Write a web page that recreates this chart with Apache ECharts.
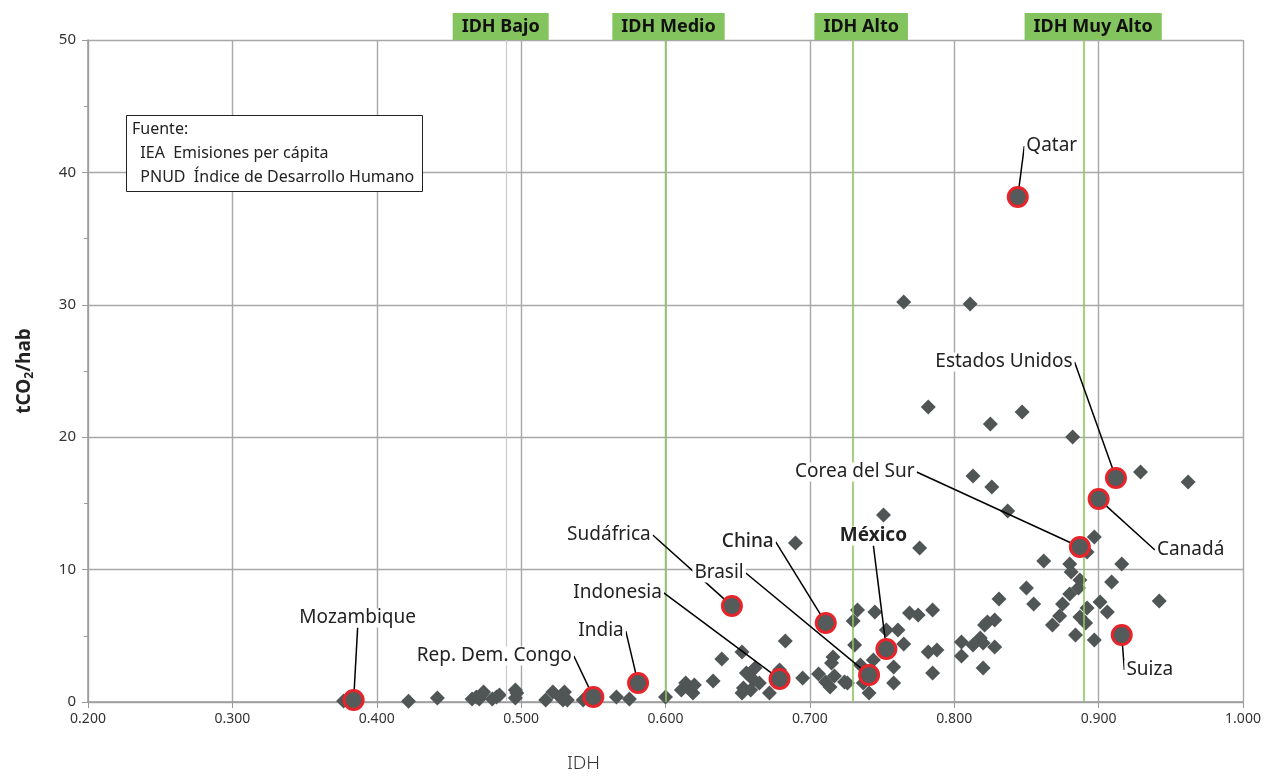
<!DOCTYPE html>
<html>
<head>
<meta charset="utf-8">
<script src="https://cdn.jsdelivr.net/npm/echarts@6/dist/echarts.min.js"></script>
<style>
  html, body { margin: 0; padding: 0; background: #fff; }
  #chart { width: 1281px; height: 780px; }
</style>
</head>
<body>
<div id="chart"></div>
<script>
// IDH vs emisiones per cápita (tCO2/hab)
const otrosIdh = [
  0.377, 0.422, 0.442, 0.466, 0.469, 0.473, 0.474, 0.471, 0.480, 0.483, 0.485,
  0.496, 0.497, 0.496, 0.517, 0.522, 0.527, 0.530, 0.529, 0.532, 0.543, 0.566,
  0.575, 0.600, 0.611, 0.614, 0.617, 0.619, 0.620, 0.633, 0.639, 0.653, 0.656,
  0.662, 0.661, 0.654, 0.659, 0.653, 0.665, 0.672, 0.683, 0.679, 0.695, 0.706,
  0.711, 0.714, 0.716, 0.715, 0.717, 0.724, 0.726, 0.731, 0.730, 0.733, 0.745,
  0.735, 0.737, 0.741, 0.744, 0.753, 0.761, 0.765, 0.758, 0.758, 0.769, 0.775,
  0.785, 0.782, 0.788, 0.785, 0.805, 0.813, 0.818, 0.820, 0.828, 0.805, 0.820,
  0.823, 0.828, 0.821, 0.831, 0.850, 0.855, 0.862, 0.880, 0.881, 0.887, 0.886,
  0.880, 0.875, 0.873, 0.868, 0.892, 0.887, 0.891, 0.901, 0.906, 0.884, 0.897,
  0.909, 0.916, 0.942, 0.897, 0.892, 0.929, 0.962, 0.882, 0.847, 0.825, 0.782,
  0.813, 0.826, 0.837, 0.751, 0.776, 0.690, 0.765, 0.811
];
const otrosCo2 = [
  0.08, 0.05, 0.30, 0.23, 0.38, 0.60, 0.76, 0.23, 0.23, 0.38, 0.53,
  0.91, 0.68, 0.30, 0.15, 0.76, 0.38, 0.76, 0.15, 0.15, 0.15, 0.38,
  0.23, 0.38, 0.91, 1.43, 1.06, 0.68, 1.28, 1.59, 3.25, 3.78, 2.19,
  2.57, 1.66, 1.06, 0.91, 0.68, 1.43, 0.68, 4.61, 2.42, 1.81, 2.11,
  1.51, 1.13, 3.40, 2.95, 1.96, 1.51, 1.43, 4.31, 6.12, 6.95, 6.80,
  2.79, 1.43, 0.68, 3.17, 5.44, 5.44, 4.38, 2.64, 1.43, 6.72, 6.57,
  6.95, 3.78, 3.93, 2.19, 4.53, 4.31, 4.83, 4.46, 4.15, 3.47, 2.57,
  6.04, 6.19, 5.82, 7.78, 8.61, 7.40, 10.65, 10.42, 9.82, 9.21, 8.61,
  8.16, 7.40, 6.50, 5.82, 7.10, 6.42, 5.97, 7.55, 6.80, 5.06, 4.68,
  9.06, 10.42, 7.63, 12.46, 11.33, 17.37, 16.62, 20.02, 21.90, 21.00, 22.28,
  17.07, 16.24, 14.43, 14.12, 11.63, 12.01, 30.21, 30.06
];

const paises = ['Mozambique', 'Rep. Dem. Congo', 'India', 'Indonesia', 'Sudáfrica', 'China',
  'Brasil', 'México', 'Corea del Sur', 'Canadá', 'Estados Unidos', 'Suiza', 'Qatar'];
const paisIdh = [0.384, 0.550, 0.581, 0.679, 0.646, 0.711, 0.741, 0.753, 0.887, 0.900, 0.912, 0.916, 0.844];
const paisCo2 = [0.15, 0.38, 1.43, 1.74, 7.25, 5.97, 2.04, 4.00, 11.71, 15.33, 16.92, 5.06, 38.14];

const limiteNombres = ['IDH Bajo', 'IDH Medio', 'IDH Alto', 'IDH Muy Alto'];
const limiteIdh = [0.488, 0.604, 0.728, 0.892];

const fuenteLineas = ['Fuente:', '  IEA  Emisiones per cápita', '  PNUD  Índice de Desarrollo Humano'];

// label offsets (px) for the country names, same order as paises
const etiquetaOffset = [[4, -82], [-99, -41], [-37, -52], [-162, -86], [-123, -71], [-78, -81],
  [-150, -102], [-13, -113], [-225, -75], [92, 51], [-112, -116], [28, 35], [34, -51]];
const limiteColor = ['#c9c9c9', '#8dc660', '#8dc660', '#8dc660'];
const limiteLabelOffset = [-6, 3, 8, 9];

const FONT = '"Noto Sans", sans-serif';
const chart = echarts.init(document.getElementById('chart'), null, { renderer: 'canvas' });

const otros = otrosIdh.map((x, i) => [x, otrosCo2[i]]);
const destacados = paises.map((n, i) => {
  const item = { name: n, value: [paisIdh[i], paisCo2[i]] };
  if (n === 'México') item.label = { fontWeight: 'bold' };
  if (n === 'China') item.label = { fontWeight: 500 };
  return item;
});

const limites = limiteNombres.map((n, i) => ({
  name: n,
  xAxis: limiteIdh[i],
  lineStyle: { color: limiteColor[i], width: i === 0 ? 1.2 : 1.6, type: 'solid' },
  label: { offset: [limiteLabelOffset[i], 0] },
}));

chart.setOption({
  animation: false,
  backgroundColor: '#fff',
  textStyle: { fontFamily: FONT },
  title: {
    text: fuenteLineas.join('\n'),
    left: 126,
    top: 115,
    padding: [2, 8, 3, 6],
    borderColor: '#222',
    borderWidth: 1,
    backgroundColor: '#fff',
    textStyle: { fontFamily: FONT, fontSize: 16, fontWeight: 'normal', lineHeight: 24, color: '#222' },
  },
  grid: { left: 88, right: 38, top: 40, bottom: 78 },
  xAxis: {
    type: 'value',
    min: 0.2,
    max: 1.0,
    interval: 0.1,
    name: 'IDH',
    nameLocation: 'middle',
    nameGap: 52,
    nameTextStyle: { fontFamily: FONT, fontSize: 19, color: '#333', padding: [0, 164, 0, 0], fontWeight: 300 },
    axisLine: { lineStyle: { color: '#9a9a9a', width: 1.5 } },
    axisTick: { show: true, length: 6, lineStyle: { color: '#9a9a9a' } },
    axisLabel: { formatter: v => v.toFixed(3), fontSize: 14, color: '#333', margin: 10 },
    splitLine: { lineStyle: { color: '#a8a8a8', width: 1.4 } },
  },
  yAxis: {
    type: 'value',
    min: 0,
    max: 50,
    interval: 10,
    name: '{a|tCO}{b|2}{a|/hab}',
    nameLocation: 'middle',
    nameGap: 52,
    nameTextStyle: {
      rich: {
        a: { fontFamily: FONT, fontSize: 19, fontWeight: 'bold', color: '#222' },
        b: { fontFamily: FONT, fontSize: 12, fontWeight: 'bold', color: '#222', padding: [10, 0, 0, 0] },
      },
    },
    axisLine: { show: true, lineStyle: { color: '#9a9a9a', width: 1.5 } },
    axisTick: { show: true, length: 6, lineStyle: { color: '#9a9a9a' } },
    minorTick: { show: true, splitNumber: 2, length: 4, lineStyle: { color: '#9a9a9a' } },
    axisLabel: { fontSize: 15, color: '#333', margin: 12 },
    splitLine: { lineStyle: { color: '#a8a8a8', width: 1.4 } },
  },
  series: [
    {
      name: 'países',
      type: 'scatter',
      symbol: 'diamond',
      symbolSize: 15,
      itemStyle: { color: '#505555', opacity: 1 },
      data: otros,
      z: 3,
      markLine: {
        silent: true,
        symbol: 'none',
        animation: false,
        label: {
          show: true,
          position: 'end',
          distance: 0,
          formatter: '{b}',
          fontFamily: FONT,
          fontSize: 18,
          fontWeight: 'bold',
          color: '#111',
          backgroundColor: '#84c45e',
          padding: [5, 9, 4, 9],
        },
        data: limites,
      },
    },
    {
      name: 'destacados',
      type: 'scatter',
      symbol: 'circle',
      symbolSize: 19,
      itemStyle: { color: '#555a5a', borderColor: '#e8242b', borderWidth: 3, opacity: 1 },
      data: destacados,
      z: 5,
      label: {
        show: true,
        position: 'inside',
        formatter: '{b}',
        fontFamily: FONT,
        fontSize: 19,
        color: '#222',
        backgroundColor: '#fff',
        padding: [0, 2],
      },
      labelLine: { show: true, lineStyle: { color: '#000', width: 1.5 } },
      labelLayout: p => ({ dx: etiquetaOffset[p.dataIndex][0], dy: etiquetaOffset[p.dataIndex][1] }),
    },
  ],
});
</script>
</body>
</html>
